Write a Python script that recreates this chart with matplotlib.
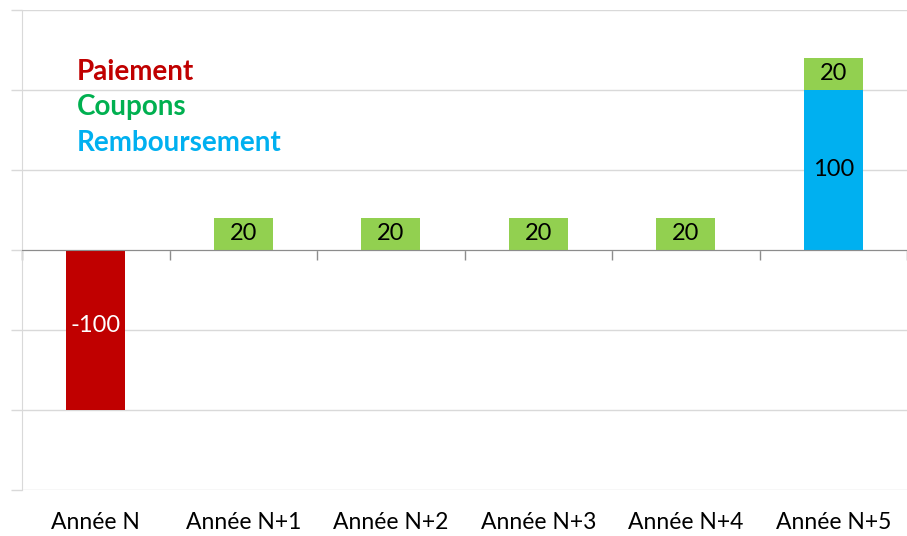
import matplotlib.pyplot as plt

# Flux d'une obligation : paiement, coupons, remboursement
annees = ["Année N", "Année N+1", "Année N+2", "Année N+3", "Année N+4", "Année N+5"]
paiement = [-100, 0, 0, 0, 0, 0]
remboursement = [0, 0, 0, 0, 0, 100]
coupons = [0, 20, 20, 20, 20, 20]

rouge = "#C00000"
vert = "#92D050"
bleu = "#00B0F0"

plt.rcParams['font.family'] = ['Lato', 'DejaVu Sans']

fig = plt.figure(figsize=(9.07, 5.36), dpi=100)
ax = fig.add_axes([22 / 907, 46 / 536, 885 / 907, 480 / 536])

x = list(range(len(annees)))
w = 0.4

b_pai = ax.bar(x, paiement, w, color=rouge, zorder=3)
b_remb = ax.bar(x, remboursement, w, color=bleu, zorder=3)
b_coup = ax.bar(x, coupons, w, bottom=remboursement, color=vert, zorder=3)

# étiquettes de données (on ignore les zéros)
def labels(vals):
    return [str(v) if v != 0 else "" for v in vals]

ax.bar_label(b_pai, labels=labels(paiement), label_type='center',
             color='white', fontsize=17, padding=-3)
ax.bar_label(b_remb, labels=labels(remboursement), label_type='center',
             color='black', fontsize=17)
ax.bar_label(b_coup, labels=labels(coupons), label_type='center',
             color='black', fontsize=17)

ax.set_xlim(-0.5, -0.5 + 885 / 150.4)
ax.set_ylim(-150, 150)
ax.set_yticks(range(-150, 151, 50))
ax.set_yticklabels([])
ax.tick_params(axis='y', length=8, color='#d9d9d9', width=1)
ax.grid(axis='y', color='#d9d9d9', linewidth=1, zorder=0)

# axe des catégories sur le zéro
ax.spines['bottom'].set_position(('data', 0))
ax.spines['bottom'].set_color('#8c8c8c')
ax.spines['bottom'].set_zorder(4)
ax.set_xticks([i - 0.5 for i in range(len(annees) + 1)])
ax.set_xticklabels([])
ax.tick_params(axis='x', length=7, color='#8c8c8c', width=1, direction='out')

ax.spines['left'].set_color('#d9d9d9')
ax.spines['top'].set_visible(False)
ax.spines['right'].set_visible(False)

sec = ax.secondary_xaxis('bottom')
sec.set_xticks(x)
sec.set_xticklabels(annees, fontsize=16.5)
sec.tick_params(length=0, pad=16)
sec.spines['bottom'].set_visible(False)

# légende sous forme de texte coloré
ax.text(0.062, 0.871, "Paiement", transform=ax.transAxes, color=rouge,
        fontsize=20, fontweight='bold', va='center')
ax.text(0.062, 0.798, "Coupons", transform=ax.transAxes, color='#00B050',
        fontsize=20, fontweight='bold', va='center')
ax.text(0.062, 0.723, "Remboursement", transform=ax.transAxes, color=bleu,
        fontsize=20, fontweight='bold', va='center')

fig.savefig("out.png", dpi=100)
